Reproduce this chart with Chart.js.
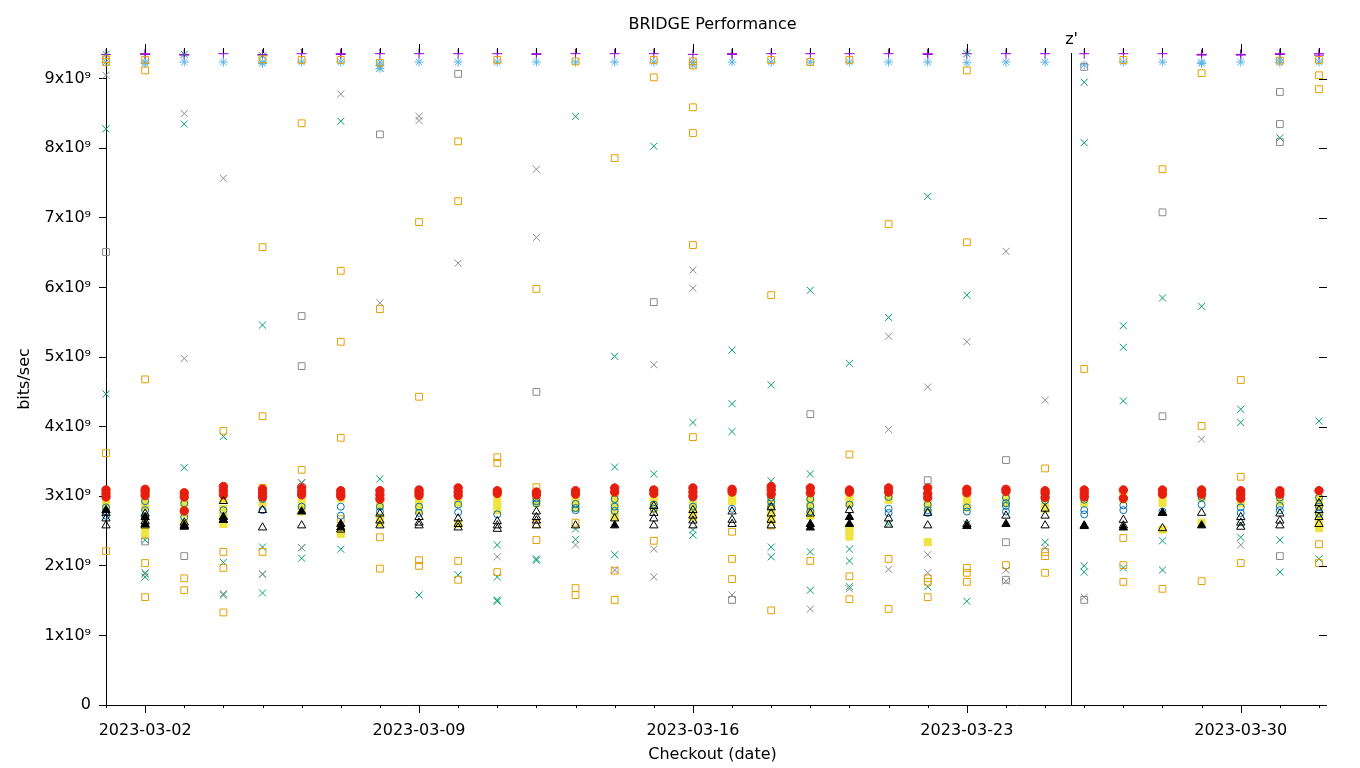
<!DOCTYPE html>
<html>
<head>
<meta charset="utf-8">
<title>BRIDGE Performance</title>
<script src="https://cdn.jsdelivr.net/npm/chart.js@4.4.1/dist/chart.umd.min.js"></script>
<style>
  html, body { margin: 0; padding: 0; background: #fff; }
  #wrap { width: 1360px; height: 768px; }
</style>
</head>
<body>
<div id="wrap"><canvas id="perfChart" width="1360" height="768"></canvas></div>
<script>
// one entry per checkout day, x = index
const checkoutDates = [
  '2023-03-01', '2023-03-02', '2023-03-03', '2023-03-04', '2023-03-05', '2023-03-06', '2023-03-07', '2023-03-08',
  '2023-03-09', '2023-03-10', '2023-03-11', '2023-03-12', '2023-03-13', '2023-03-14', '2023-03-15', '2023-03-16',
  '2023-03-17', '2023-03-18', '2023-03-19', '2023-03-20', '2023-03-21', '2023-03-22', '2023-03-23', '2023-03-24',
  '2023-03-25', '2023-03-26', '2023-03-27', '2023-03-28', '2023-03-29', '2023-03-30', '2023-03-31', '2023-04-01'
];
const labelDays = [1, 8, 15, 22, 29];
const yTicks = [0, 1, 2, 3, 4, 5, 6, 7, 8, 9]; // x10^9
const yMax = 9.37;
const markerDay = 24.65;
const markerLabel = "z'";

// values in 10^9 bits/sec, one list per checkout day
const purplePlus = [
  [9.35], [9.36, 9.35], [9.35, 9.34], [9.36], [9.35, 9.34], [9.36], [9.36, 9.35], [9.36],
  [9.36], [9.36], [9.36], [9.36, 9.35], [9.36], [9.36], [9.36], [9.35],
  [9.36, 9.35], [9.36], [9.36], [9.36], [9.36], [9.36, 9.35], [9.36], [9.36],
  [9.36], [9.36], [9.36], [9.36], [9.35, 9.34], [9.35, 9.34], [9.36, 9.35], [9.36, 9.34]
];
const greenCross = [
  [9.35, 8.28, 4.47], [2.37, 1.9, 1.84], [9.35, 8.35, 3.41], [3.86, 2.05, 1.58],
  [9.33, 5.46, 2.27, 1.88, 1.61], [3.19, 2.26, 2.11], [8.39, 2.24], [9.15, 3.25],
  [1.58], [1.87], [2.3, 1.84, 1.51, 1.49], [2.1, 2.08],
  [8.46, 2.53, 2.38], [5.01, 3.42, 2.16], [8.03, 3.32], [4.06, 2.52, 2.44],
  [5.1, 4.33, 3.93], [4.6, 3.22, 2.27, 2.13], [5.96, 3.32, 2.2, 1.65], [4.91, 2.24, 2.07, 1.7],
  [5.57, 2.6], [7.31, 1.7], [9.36, 5.89, 2.6, 1.49], [],
  [2.34], [8.95, 8.08, 2.0, 1.91], [5.45, 5.14, 4.37, 1.97], [5.85, 2.36, 1.94],
  [5.73], [4.25, 4.06, 2.6, 2.41], [8.15, 2.37, 1.91], [4.08, 2.1]
];
const blueStar = [
  [9.24], [9.24, 9.22], [9.24], [9.24], [9.24, 9.22], [9.24], [9.24], [9.24, 9.19, 9.15],
  [9.24], [9.24], [9.24], [9.24], [9.24], [9.24], [9.24], [9.24, 9.2],
  [9.24], [9.24], [9.24], [9.24], [9.24], [9.24], [9.23], [9.24],
  [9.24], [9.2], [9.24], [9.24], [9.24, 9.22], [9.24], [9.27, 9.23], [9.24]
];
const orangeSquare = [
  [9.28, 9.24, 3.62, 2.21], [9.27, 9.12, 4.68, 2.04, 1.55], [3.04, 1.82, 1.65], [3.94, 2.72, 2.2, 1.97, 1.33],
  [9.28, 6.58, 4.15, 3.12, 2.2], [9.27, 8.36, 3.38], [9.27, 6.24, 5.22, 3.84, 2.67], [9.23, 5.69, 2.41, 1.96],
  [6.94, 4.43, 2.08, 2.0], [8.1, 7.24, 2.07, 1.8], [9.27, 3.56, 3.48, 1.91], [5.98, 3.13, 2.6, 2.37],
  [9.25, 2.62, 1.68, 1.58], [7.86, 1.93, 1.51], [9.27, 9.02, 2.36], [9.25, 9.19, 8.59, 8.22, 6.61, 3.85],
  [2.49, 2.1, 1.81], [9.27, 5.89, 2.58, 1.36], [9.24, 2.07], [9.27, 3.6, 2.55, 1.85, 1.52],
  [6.91, 2.1, 1.38], [1.82, 1.77, 1.55], [9.12, 6.65, 1.97, 1.9, 1.77], [2.01],
  [3.4, 2.2, 2.14, 1.9], [4.83], [9.27, 2.4, 2.01, 1.77], [7.7, 1.67],
  [9.08, 4.01, 1.78], [4.67, 3.28, 3.02, 2.04], [9.26], [9.27, 9.05, 8.85, 2.31, 2.04]
];
const yellowSquare = [
  [2.96, 2.9, 2.84], [2.95, 2.85, 2.7, 2.55, 2.44], [2.97, 2.88, 2.75, 2.62], [2.95, 2.82, 2.7, 2.6],
  [2.98, 2.9], [2.96, 2.86, 2.78], [2.97, 2.5, 2.46], [2.96, 2.86, 2.7, 2.62],
  [2.97, 2.88, 2.8], [2.98, 2.9, 2.6], [2.96, 2.88, 2.8], [2.97, 2.9],
  [2.98, 2.9, 2.83], [3.0, 2.9, 2.78, 2.7], [2.98, 2.9, 2.82], [2.98, 2.9, 2.8, 2.7],
  [2.98, 2.93], [2.97, 2.88, 2.76, 2.66], [2.98, 2.9, 2.8, 2.72], [2.98, 2.9, 2.5, 2.42],
  [3.0, 2.95], [2.97, 2.9, 2.84, 2.34], [2.98, 2.9, 2.84], [2.97, 2.9],
  [2.98, 2.9, 2.82], [2.98, 2.9], [3.04, 2.95], [3.06, 2.98, 2.9, 2.52],
  [2.98, 2.62], [3.0, 2.94, 2.9], [2.98, 2.92], [2.96, 2.86, 2.72, 2.6, 2.54]
];
const blueCircle = [
  [2.84, 2.78, 2.72], [2.93, 2.8, 2.7], [2.9, 2.78, 2.7], [2.8],
  [2.96, 2.8], [2.85], [2.85, 2.72], [2.85, 2.78],
  [2.85, 2.76], [2.88, 2.77], [2.74], [2.97, 2.93, 2.9],
  [2.89, 2.83, 2.8], [2.96, 2.85, 2.79], [2.88, 2.82], [2.98, 2.85],
  [2.82], [2.98, 2.92, 2.85], [2.96, 2.86, 2.78], [2.88],
  [2.99, 2.82, 2.76], [2.88, 2.8, 2.76], [2.84, 2.78], [2.98, 2.9, 2.86, 2.78],
  [2.94], [2.95, 2.8, 2.74], [2.87, 2.8], [2.78],
  [2.99, 2.88], [2.84, 2.76], [2.98, 2.86, 2.8], [2.98, 2.85, 2.75]
];
const redCircle = [
  [3.09, 3.04, 2.99], [3.1, 3.06, 3.01], [3.05, 2.99, 2.79], [3.14, 3.08, 3.02],
  [3.1, 3.04, 2.99], [3.13, 3.07, 3.02], [3.08, 3.03, 3.0], [3.08, 3.02, 2.96],
  [3.09, 3.05, 3.01], [3.12, 3.06, 3.01], [3.08, 3.04], [3.06, 3.02],
  [3.08, 3.03], [3.12, 3.06], [3.09, 3.04], [3.12, 3.06, 3.0],
  [3.1, 3.06], [3.14, 3.09, 3.03], [3.12, 3.05], [3.09, 3.06],
  [3.12, 3.06], [3.12, 3.04, 2.98], [3.1, 3.05], [3.1, 3.07],
  [3.08, 3.04, 2.98], [3.09, 3.04, 2.99], [3.09, 2.97], [3.09, 3.03],
  [3.09, 3.03], [3.08, 3.03, 2.97], [3.08, 3.03], [3.08]
];
const blackTriangle = [
  [2.76, 2.68, 2.58], [2.75, 2.64, 2.58], [2.62, 2.58, 2.56], [2.93, 2.66],
  [2.8, 2.55], [2.58], [2.52], [2.75, 2.65, 2.58],
  [2.7, 2.62, 2.58], [2.68, 2.6, 2.55], [2.64, 2.58, 2.53], [2.78, 2.7, 2.65, 2.58],
  [2.58], [2.68], [2.86, 2.76, 2.68, 2.58], [2.8, 2.72, 2.65, 2.58],
  [2.78, 2.66, 2.6], [2.84, 2.75, 2.66, 2.58], [2.75], [2.8],
  [2.68, 2.59], [2.76, 2.58], [2.6], [2.72],
  [2.82, 2.72, 2.58], [2.58], [2.66, 2.58], [2.76, 2.54],
  [2.76], [2.7, 2.62, 2.56], [2.75, 2.65, 2.58], [2.9, 2.8, 2.7, 2.6]
];
const grayCross = [
  [9.05], [1.88], [8.5, 4.98], [7.57, 1.6],
  [1.88], [3.2, 2.26], [8.78], [5.78],
  [8.46, 8.4], [6.35], [2.13], [7.7, 6.72],
  [2.3], [1.94], [4.89, 2.24, 1.84], [6.25, 5.99],
  [1.58], [], [1.38], [1.67],
  [5.3, 3.96, 1.95], [4.57, 2.16, 1.9], [5.22], [6.52, 1.94, 1.78],
  [4.38, 2.26], [1.55], [], [],
  [3.82], [2.3], [], []
];
const graySquare = [
  [6.51], [2.35], [2.14], [],
  [], [5.59, 4.87], [], [8.2],
  [], [9.07], [], [4.5],
  [], [], [5.79], [],
  [1.51], [], [4.18], [],
  [], [3.23], [], [3.52, 2.34, 1.8],
  [], [9.17, 1.51], [], [7.08, 4.15],
  [], [], [8.81, 8.35, 8.09, 2.14], []
];
const blackFilledTriangle = [
  [2.8], [2.7, 2.6], [2.57], [2.7, 2.66],
  [], [2.78], [2.6, 2.55], [],
  [], [], [], [],
  [], [2.58], [], [],
  [], [], [2.6, 2.55], [2.7, 2.6],
  [], [], [2.57], [2.6],
  [], [2.57], [2.55], [2.76],
  [2.58], [], [], []
];

function toPoints(perDay) {
  const pts = [];
  perDay.forEach((vals, day) => {
    vals.forEach(v => pts.push({ x: day, y: v * 1e9 }));
  });
  return pts;
}

// drawn in this order, later ones on top (like gnuplot)
const seriesList = [
  { data: purplePlus, style: 'cross', color: '#9400d3', fill: false, r: 5 },
  { data: greenCross, style: 'crossRot', color: '#009e73', fill: false, r: 5 },
  { data: blueStar, style: 'star', color: '#56b4e9', fill: false, r: 4.5 },
  { data: orangeSquare, style: 'rect', color: '#e69f00', fill: false, r: 4.8 },
  { data: yellowSquare, style: 'rect', color: '#f0e442', fill: true, r: 5 },
  { data: blueCircle, style: 'circle', color: '#0072b2', fill: false, r: 3.5 },
  { data: redCircle, style: 'circle', color: '#e51e10', fill: true, r: 4.2 },
  { data: blackTriangle, style: 'triangle', color: '#000000', fill: false, r: 4.8 },
  { data: grayCross, style: 'crossRot', color: '#8a8a8a', fill: false, r: 5 },
  { data: graySquare, style: 'rect', color: '#8a8a8a', fill: false, r: 4.8 },
  { data: blackFilledTriangle, style: 'triangle', color: '#000000', fill: true, r: 4.8 }
];

const datasets = seriesList.map((s, i) => ({
  data: toPoints(s.data),
  showLine: false,
  pointStyle: s.style,
  pointRadius: s.r,
  pointBorderColor: s.color,
  pointBackgroundColor: s.fill ? s.color : 'rgba(0,0,0,0)',
  pointBorderWidth: 1,
  clip: false,
  order: seriesList.length - i
}));

const FONT = "'DejaVu Sans', sans-serif";

const gnuplotFrame = {
  id: 'gnuplotFrame',
  beforeDatasetsDraw(chart) {
    const { ctx, chartArea, scales } = chart;
    const xm = Math.round(scales.x.getPixelForValue(markerDay)) + 0.5;
    ctx.save();
    ctx.strokeStyle = '#000';
    ctx.lineWidth = 1;
    ctx.beginPath();
    ctx.moveTo(xm, chartArea.bottom);
    ctx.lineTo(xm, chartArea.top);
    ctx.stroke();
    ctx.restore();
  },
  afterDraw(chart) {
    const { ctx, chartArea, scales } = chart;
    const x = scales.x, y = scales.y;
    ctx.save();
    ctx.strokeStyle = '#000';
    ctx.lineWidth = 1;
    ctx.beginPath();
    // day ticks, bottom and mirrored on top
    checkoutDates.forEach((d, i) => {
      const px = Math.round(x.getPixelForValue(i)) + 0.5;
      const major = labelDays.includes(i);
      ctx.moveTo(px, chartArea.bottom);
      ctx.lineTo(px, chartArea.bottom + (major ? 8 : 3));
      ctx.moveTo(px, chartArea.top);
      ctx.lineTo(px, chartArea.top - (major ? 9 : 5));
    });
    // mirrored y ticks on the right
    yTicks.forEach(v => {
      const py = Math.round(y.getPixelForValue(v * 1e9)) + 0.5;
      ctx.moveTo(chartArea.right, py);
      ctx.lineTo(chartArea.right + 8, py);
    });
    ctx.stroke();

    ctx.fillStyle = '#000';
    ctx.font = '16px ' + FONT;
    ctx.textAlign = 'center';
    ctx.textBaseline = 'middle';
    const cx = (chartArea.left + chartArea.right) / 2;
    ctx.fillText('BRIDGE Performance', cx, 25);
    ctx.fillText('Checkout (date)', cx, 755);
    ctx.fillText(markerLabel, x.getPixelForValue(markerDay) + 1, 40);
    ctx.translate(25, (chartArea.top + chartArea.bottom) / 2);
    ctx.rotate(-Math.PI / 2);
    ctx.fillText('bits/sec', 0, 0);
    ctx.restore();
  }
};

new Chart(document.getElementById('perfChart'), {
  type: 'scatter',
  data: { datasets: datasets },
  options: {
    responsive: false,
    devicePixelRatio: 1,
    animation: false,
    events: [],
    layout: { padding: { top: 53, right: 41, bottom: 0, left: 0 } },
    plugins: {
      legend: { display: false },
      tooltip: { enabled: false },
      title: { display: false }
    },
    scales: {
      x: {
        type: 'linear',
        min: 0,
        max: checkoutDates.length - 1,
        afterBuildTicks: scale => { scale.ticks = labelDays.map(v => ({ value: v })); },
        afterFit: scale => { scale.height = 63; },
        grid: { display: true, drawOnChartArea: false, drawTicks: true, tickLength: 8, color: 'rgba(0,0,0,0)' },
        border: { display: true, color: '#000', width: 1 },
        ticks: {
          autoSkip: false,
          maxRotation: 0,
          padding: 8,
          color: '#000',
          font: { family: FONT, size: 16 },
          callback: value => checkoutDates[value]
        }
      },
      y: {
        type: 'linear',
        min: 0,
        max: yMax * 1e9,
        afterBuildTicks: scale => { scale.ticks = yTicks.map(v => ({ value: v * 1e9 })); },
        afterFit: scale => { scale.width = 106; },
        grid: { display: true, drawOnChartArea: false, drawTicks: true, tickLength: 7, color: '#000' },
        border: { display: true, color: '#000', width: 1 },
        ticks: {
          padding: 8,
          color: '#000',
          font: { family: FONT, size: 16 },
          callback: value => {
            const n = Math.round(value / 1e9);
            return n === 0 ? '0' : n + 'x10\u2079';
          }
        }
      }
    }
  },
  plugins: [gnuplotFrame]
});
</script>
</body>
</html>
